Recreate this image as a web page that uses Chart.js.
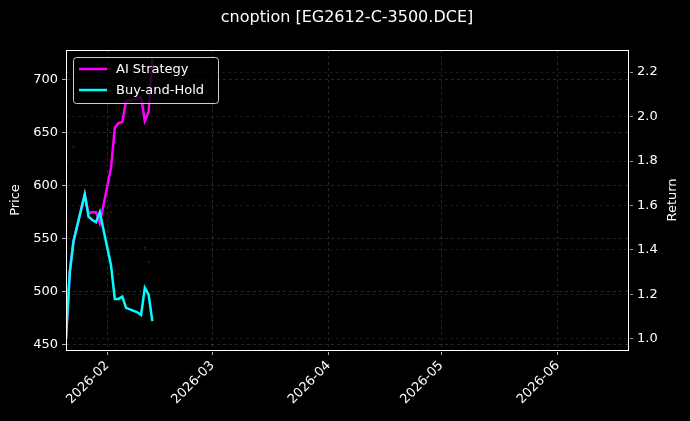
<!DOCTYPE html>
<html><head><meta charset="utf-8">
<script src="https://cdn.jsdelivr.net/npm/chart.js@4"></script>
<style>html,body{margin:0;background:#000;}#w{width:690px;height:421px;}</style>
</head><body><div id="w"><canvas id="c"></canvas></div>
<script>
const dates = ["2026-01-21","2026-01-22","2026-01-23","2026-01-26","2026-01-27","2026-01-28","2026-01-29","2026-01-30","2026-02-02","2026-02-03","2026-02-04","2026-02-05","2026-02-06","2026-02-09","2026-02-10","2026-02-11","2026-02-12","2026-02-13"];
const aiReturn = [1.0,1.30,1.44,1.65,1.565,1.57,1.57,1.52,1.77,1.95,1.97,1.975,2.07,2.08,2.09,1.98,2.02,2.26];
const bhReturn = [1.0,1.30,1.44,1.65,1.55,1.535,1.525,1.57,1.33,1.18,1.18,1.19,1.14,1.12,1.108,1.23,1.20,1.08];
const markDates = ["2026-01-23","2026-02-02","2026-02-04","2026-02-11","2026-02-12"];
const markPrices = [637,575,517,542,528];
const monthTicks = ["2026-02-01","2026-03-01","2026-04-01","2026-05-01","2026-06-01"];
const xMin = "2026-01-21", xMax = "2026-06-20";
const priceTicks = [450,500,550,600,650,700];
const returnTicks = [1.0,1.2,1.4,1.6,1.8,2.0,2.2];

const T = s => Date.parse(s + "T00:00:00Z");
const F = "DejaVu Sans";
const grid = {color:'rgba(160,160,160,0.35)', lineWidth:0.7, drawTicks:true, tickLength:4, tickColor:'#fff'};
const border = {color:'rgba(0,0,0,0)',width:1,dash:[3,3]};
const legendPlugin = {
  id:'lg',
  afterDraw(c){
    const x=c.ctx, a=c.chartArea; x.save();
    const L=Math.round(a.left)+0.5, R=Math.round(a.right)-0.5, Tp=Math.round(a.top)+0.5, B=Math.round(a.bottom)-0.5;
    x.strokeStyle='#fff'; x.lineWidth=1; x.strokeRect(L,Tp,R-L,B-Tp);
    x.font='13px '+F; x.fillStyle='rgba(0,0,0,0.8)'; x.strokeStyle='#ccc'; x.lineWidth=1;
    x.beginPath(); x.roundRect(73.5,57.5,145,46,3); x.fill(); x.stroke();
    [[0,'#ff00ff'],[1,'#00ffff']].forEach(([i,col])=>{
      const y=69+i*21; x.strokeStyle=col; x.lineWidth=2.5;
      x.beginPath(); x.moveTo(79,y); x.lineTo(107,y); x.stroke();
      x.fillStyle='#fff'; x.textBaseline='middle'; x.fillText(c.data.datasets[i].label,116,y+1);
    });
    x.font='16px '+F; x.textAlign='center'; x.textBaseline='middle'; x.fillStyle='#fff';
    x.fillText('cnoption [EG2612-C-3500.DCE]',347,18);
    x.font='13px '+F;
    [['Price',16],['Return',673]].forEach(([t,px])=>{
      x.save(); x.translate(px,200); x.rotate(-Math.PI/2); x.fillText(t,0,0); x.restore();
    });
    x.restore();
  }
};
new Chart(document.getElementById('c'),{
  type:'line',
  data:{datasets:[
    {label:'AI Strategy',data:dates.map((d,i)=>({x:T(d),y:aiReturn[i]})),borderColor:'#ff00ff',borderWidth:2.5,pointRadius:0,yAxisID:'yr',order:2},
    {label:'Buy-and-Hold',data:dates.map((d,i)=>({x:T(d),y:bhReturn[i]})),borderColor:'#00ffff',borderWidth:2.5,pointRadius:0,yAxisID:'yr',order:1},
    {label:'trades',type:'scatter',data:markDates.map((d,i)=>({x:T(d),y:markPrices[i]})),backgroundColor:'#8b0000',borderWidth:0,pointRadius:1,yAxisID:'y'}
  ]},
  plugins:[legendPlugin],
  options:{
    animation:false,responsive:true,maintainAspectRatio:false,
    layout:{padding:{top:50,left:0,right:0,bottom:0}},
    plugins:{legend:{display:false},tooltip:{enabled:false}},
    scales:{
      x:{type:'linear',min:T(xMin),max:T(xMax),grid:grid,border:border,
        afterBuildTicks:a=>{a.ticks=monthTicks.map(d=>({value:T(d)}));},
        afterFit:a=>{a.height=70;},
        ticks:{color:'#fff',font:{family:F,size:13},minRotation:45,maxRotation:45,autoSkip:false,
          callback:v=>new Date(v).toISOString().slice(0,7)}},
      y:{position:'left',min:444.3,max:728.3,grid:grid,border:border,
        afterBuildTicks:a=>{a.ticks=priceTicks.map(v=>({value:v}));},
        afterFit:a=>{a.width=66;},
        ticks:{color:'#fff',font:{family:F,size:13},padding:4}},
      yr:{position:'right',min:0.946,max:2.299,grid:{color:'rgba(160,160,160,0.25)',lineWidth:0.6,drawTicks:true,tickLength:4,tickColor:'#fff'},border:border,
        afterBuildTicks:a=>{a.ticks=returnTicks.map(v=>({value:v}));},
        afterFit:a=>{a.width=61;},
        ticks:{color:'#fff',font:{family:F,size:13},padding:4,callback:v=>v.toFixed(1)}}
    }
  }
});
</script></body></html>
